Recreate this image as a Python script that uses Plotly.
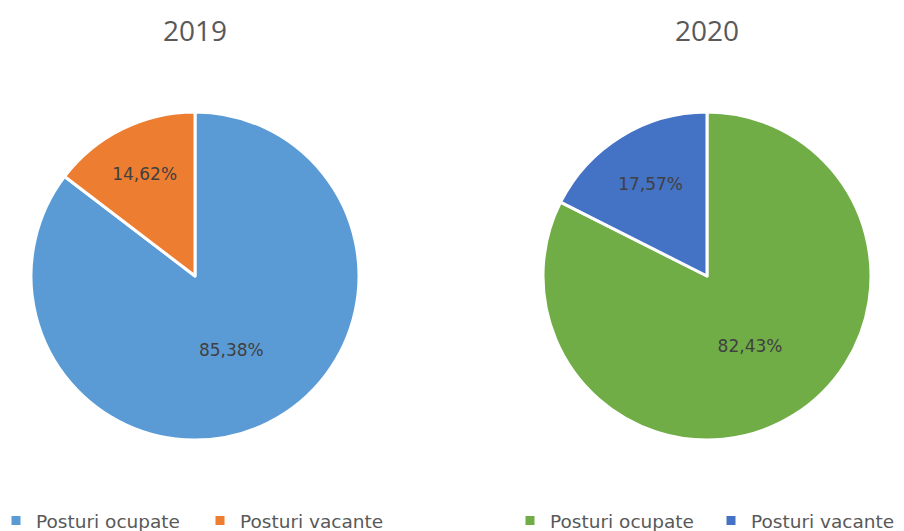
import plotly.graph_objects as go

labels = ["Posturi ocupate", "Posturi vacante"]
values_2019 = [85.38, 14.62]
values_2020 = [82.43, 17.57]
text_2019 = ["85,38%", "14,62%"]
text_2020 = ["82,43%", "17,57%"]
colors_2019 = ["#5B9BD5", "#ED7D31"]
colors_2020 = ["#70AD47", "#4472C4"]
titles = ["2019", "2020"]

W, H = 904, 531
FONT = "Open Sans"
LEG_FONT = "DejaVu Sans"
GRAY = "#595959"

fig = go.Figure()
fig.add_trace(go.Pie(
    labels=labels, values=values_2019, text=text_2019, textinfo="text",
    textposition="inside", insidetextorientation="horizontal",
    textfont=dict(family=LEG_FONT, size=17, color="#404040"),
    marker=dict(colors=colors_2019, line=dict(color="white", width=3)),
    sort=False, direction="clockwise", rotation=0,
    domain=dict(x=[31 / W, 359 / W], y=[(H - 440) / H, (H - 112) / H]),
    legend="legend", hoverinfo="label+text",
))
fig.add_trace(go.Pie(
    labels=[l + " " for l in labels], values=values_2020, text=text_2020, textinfo="text",
    textposition="inside", insidetextorientation="horizontal",
    textfont=dict(family=LEG_FONT, size=17, color="#404040"),
    marker=dict(colors=colors_2020, line=dict(color="white", width=3)),
    sort=False, direction="clockwise", rotation=0,
    domain=dict(x=[543 / W, 871 / W], y=[(H - 440) / H, (H - 112) / H]),
    legend="legend2", hoverinfo="label+text",
))

fig.update_layout(
    width=W, height=H,
    margin=dict(l=0, r=0, t=0, b=0, autoexpand=False),
    paper_bgcolor="white", plot_bgcolor="white",
    font=dict(family=FONT, color=GRAY),
    annotations=[
        dict(text=titles[0], x=195 / W, y=1 - 30 / H, xref="paper", yref="paper",
             showarrow=False, font=dict(size=28, color=GRAY), xanchor="center", yanchor="middle"),
        dict(text=titles[1], x=707 / W, y=1 - 30 / H, xref="paper", yref="paper",
             showarrow=False, font=dict(size=28, color=GRAY), xanchor="center", yanchor="middle"),
    ],
    legend=dict(orientation="h", x=-4 / W, y=1 - 521 / H, xanchor="left", yanchor="middle",
                font=dict(family=LEG_FONT, size=18.5, color=GRAY), entrywidth=159,
                entrywidthmode="pixels", bgcolor="rgba(0,0,0,0)", traceorder="normal"),
    legend2=dict(orientation="h", x=510 / W, y=1 - 521 / H, xanchor="left", yanchor="middle",
                 font=dict(family=LEG_FONT, size=18.5, color=GRAY), entrywidth=156,
                 entrywidthmode="pixels", bgcolor="rgba(0,0,0,0)", traceorder="normal"),
)

fig.write_html(
    "out.html",
    config={"displayModeBar": False},
    post_script="document.body.style.margin='0';document.body.style.overflow='hidden';",
)
